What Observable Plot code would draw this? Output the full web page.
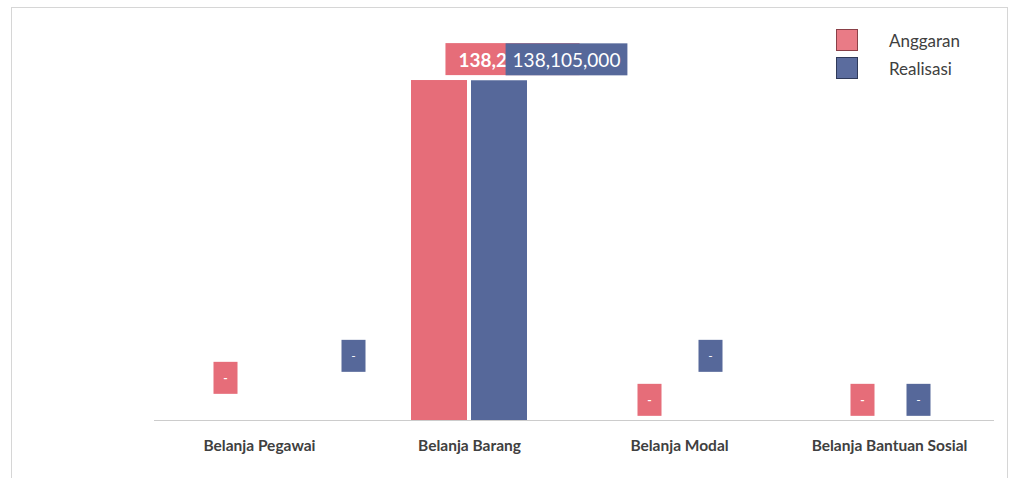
<!DOCTYPE html>
<html><head><meta charset="utf-8">
<script src="https://cdn.jsdelivr.net/npm/d3@7"></script>
<script src="https://cdn.jsdelivr.net/npm/@observablehq/plot@0.6"></script>
<style>
body{margin:0;background:#fff;font-family:Lato,"Open Sans",sans-serif}
#wrap{position:relative;width:1015px;height:478px;overflow:hidden;background:#fff}
#border{position:absolute;left:11px;top:7px;width:997px;height:500px;border:1px solid #d6d6d6;box-sizing:border-box;pointer-events:none}
#chart{position:absolute;left:0;top:0}
#legend{position:absolute;left:836px;top:29px;font-size:17px;color:#404040}
.li{display:flex;align-items:center;height:22px;margin-bottom:6px}
.sw{display:inline-block;width:20px;height:20px;border:1px solid;margin-right:31px}
</style></head><body>
<div id="wrap"><div id="chart"></div><div id="border"></div><div id="legend"></div></div>
<script>
// ---- data ----
const categories = ["Belanja Pegawai", "Belanja Barang", "Belanja Modal", "Belanja Bantuan Sosial"];
const seriesNames = ["Anggaran", "Realisasi"];
const anggaran  = [0, 138200000, 0, 0];
const realisasi = [0, 138105000, 0, 0];

// ---- styling / layout ----
const colors = {Anggaran: "#e66d79", Realisasi: "#56689a"};
const legendFill = {Anggaran: "#e97b86", Realisasi: "#5b6c9e"};
const legendStroke = {Anggaran: "#8a4048", Realisasi: "#2f3a5a"};
const boxPad = {Anggaran: 13, Realisasi: 7};
// hand-placed data-label nudges in pixels (as in the original chart)
const labelDx = {Anggaran: [-4, 73, 0, 3], Realisasi: [64, 67, 1, -1]};
const labelDy = {Anggaran: [-22, 0, 0, 0], Realisasi: [-44, 0, -44, 0]};

const values = {Anggaran: anggaran, Realisasi: realisasi};
const data = categories.flatMap((c, i) => seriesNames.map(s => ({category: c, series: s, value: values[s][i], i})));

const labelMarks = seriesNames.flatMap(s => data.filter(d => d.series === s).map(d =>
  Plot.text([d], {
    fx: "category", x: "series", y: "value",
    text: d => d.value ? d3.format(",")(d.value) : "-",
    ariaLabel: "series",
    fill: "white",
    fontSize: d.value ? 19 : 12,
    fontWeight: s === "Anggaran" ? "bold" : "normal",
    dx: labelDx[s][d.i],
    dy: -20 + labelDy[s][d.i]
  })
));

const chart = Plot.plot({
  width: 1015, height: 478,
  marginLeft: 152, marginRight: 20, marginTop: 51, marginBottom: 58,
  style: {fontFamily: "Lato, 'Open Sans', sans-serif", background: "transparent"},
  fx: {domain: categories, padding: 0, label: null},
  x: {domain: seriesNames, paddingInner: 0.06, paddingOuter: 0.768, axis: null},
  y: {domain: [0, 150000000], axis: null},
  color: {domain: seriesNames, range: seriesNames.map(s => colors[s])},
  marks: [
    Plot.ruleY([0], {stroke: "#cccccc", strokeWidth: 1}),
    Plot.barY(data, {fx: "category", x: "series", y: "value", fill: "series"}),
    Plot.axisFx({anchor: "bottom", tickSize: 0, tickPadding: 19, fontSize: 15.5, fontWeight: "bold", fill: "#404040", label: null}),
    ...labelMarks
  ]
});
document.getElementById("chart").appendChild(chart);

// label boxes behind the data-label texts
chart.querySelectorAll('g[aria-label="text"] text').forEach(t => {
  const s = t.getAttribute("aria-label");
  const b = t.getBBox();
  const w = t.textContent === "-" ? 24 : b.width + 2 * (boxPad[s] || 7);
  const cx = b.x + b.width / 2, cy = b.y + b.height / 2;
  const r = document.createElementNS("http://www.w3.org/2000/svg", "rect");
  r.setAttribute("x", cx - w / 2);
  r.setAttribute("y", cy - 16);
  r.setAttribute("width", w);
  r.setAttribute("height", 32);
  r.setAttribute("fill", colors[s] || "#888");
  r.setAttribute("stroke", "none");
  if (t.getAttribute("transform")) r.setAttribute("transform", t.getAttribute("transform"));
  t.parentNode.insertBefore(r, t);
});

// legend
const lg = document.getElementById("legend");
seriesNames.forEach(s => {
  const row = document.createElement("div");
  row.className = "li";
  const sw = document.createElement("span");
  sw.className = "sw";
  sw.style.background = legendFill[s];
  sw.style.borderColor = legendStroke[s];
  row.appendChild(sw);
  row.appendChild(document.createTextNode(s));
  lg.appendChild(row);
});
</script>
</body></html>
